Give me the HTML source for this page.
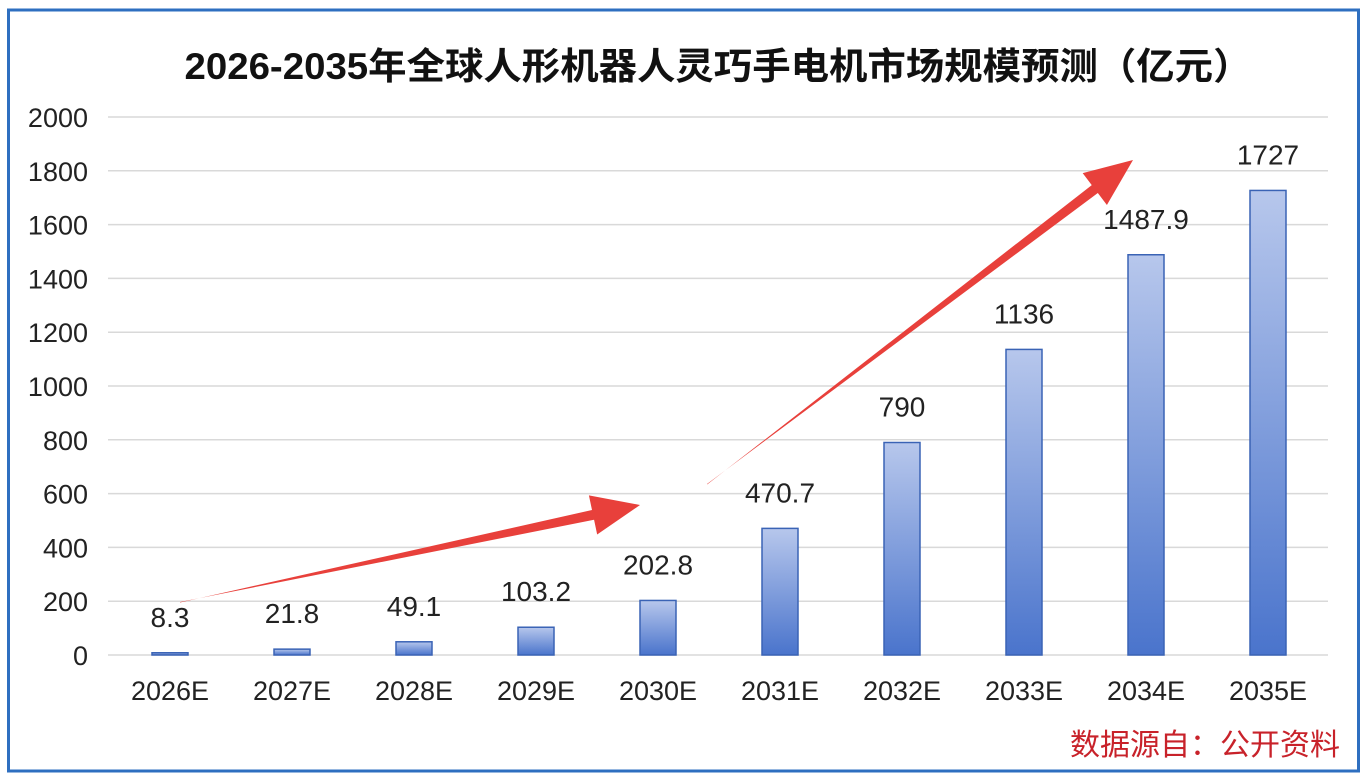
<!DOCTYPE html>
<html><head><meta charset="utf-8"><style>
body{margin:0;width:1372px;height:778px;background:#fff;overflow:hidden;font-family:"Liberation Sans","Noto Sans CJK SC",sans-serif}
</style></head><body>
<svg width="1372" height="778" id="c">
<defs>
<linearGradient id="g" x1="0" y1="0" x2="0" y2="1"><stop offset="0" stop-color="#b7c7ec"/><stop offset="1" stop-color="#4a74cc"/></linearGradient>
</defs>
<rect x="8.5" y="10" width="1350" height="761" fill="#fff" stroke="#2e6fc0" stroke-width="3"/>
<text x="718" y="79" text-anchor="middle" font-size="37" font-weight="bold" fill="#111" textLength="1067" lengthAdjust="spacingAndGlyphs" font-family="'Liberation Sans','Noto Sans CJK SC',sans-serif">2026-2035年全球人形机器人灵巧手电机市场规模预测（亿元）</text>
<g id="grid"></g><g id="bars"></g>
<text x="1340" y="755" text-anchor="end" font-size="30" fill="#c8222a" font-family="'Liberation Sans','Noto Sans CJK SC',sans-serif">数据源自：公开资料</text>
<g id="arrows"></g>
</svg>
<script>
const categories=["2026E","2027E","2028E","2029E","2030E","2031E","2032E","2033E","2034E","2035E"];
const values=[8.3,21.8,49.1,103.2,202.8,470.7,790,1136,1487.9,1727];
const labels=["8.3","21.8","49.1","103.2","202.8","470.7","790","1136","1487.9","1727"];
const yTicks=[0,200,400,600,800,1000,1200,1400,1600,1800,2000];
const NS="http://www.w3.org/2000/svg";
const y=v=>655-v*538/2000;
const x=i=>170+i*122;
function mk(t,a,p){const e=document.createElementNS(NS,t);for(const k in a)e.setAttribute(k,a[k]);p.appendChild(e);return e;}
const grid=document.getElementById('grid'),bars=document.getElementById('bars');
yTicks.forEach(v=>{
 const l=mk('line',{x1:108,x2:1328,y1:y(v),y2:y(v),stroke:'#d9d9d9','stroke-width':1.5},grid);
 
 
 const t=mk('text',{x:88,y:y(v)+10,'text-anchor':'end','font-size':27,fill:'#222'},grid);
 t.textContent=v;
 
 
});
categories.forEach((c,i)=>{
 const r=mk('rect',{x:x(i)-18,y:y(values[i]),width:36,height:655-y(values[i]),fill:'url(#g)',stroke:'#3a63b5','stroke-width':1.5},bars);
 
 
 const t=mk('text',{x:x(i),y:y(values[i])-26,'text-anchor':'middle','font-size':28,fill:'#222'},bars);
 t.textContent=labels[i];
 
 
 const xl=mk('text',{x:x(i),y:700,'text-anchor':'middle','font-size':27,fill:'#222'},bars);
 xl.textContent=c;
 
 
});
function arrow(x1,y1,x2,y2,name){
 const dx=x2-x1,dy=y2-y1,L=Math.hypot(dx,dy),ux=dx/L,uy=dy/L,nx=-uy,ny=ux;
 const hl=48,hw=20,sw=5;
 const bx=x2-ux*hl,by=y2-uy*hl;
 const pts=[[x1,y1],[bx+nx*sw,by+ny*sw],[bx+nx*hw,by+ny*hw],[x2,y2],[bx-nx*hw,by-ny*hw],[bx-nx*sw,by-ny*sw],[x1+nx*0.5,y1+ny*0.5]];
 const p=mk('polygon',{points:pts.map(q=>q.join(',')).join(' '),fill:'#e8403b'},document.getElementById('arrows'));
 
 
}
arrow(180,602,640,505,'trend-arrow-1');
arrow(707,484,1133,160,'trend-arrow-2');
</script>
</body></html>
